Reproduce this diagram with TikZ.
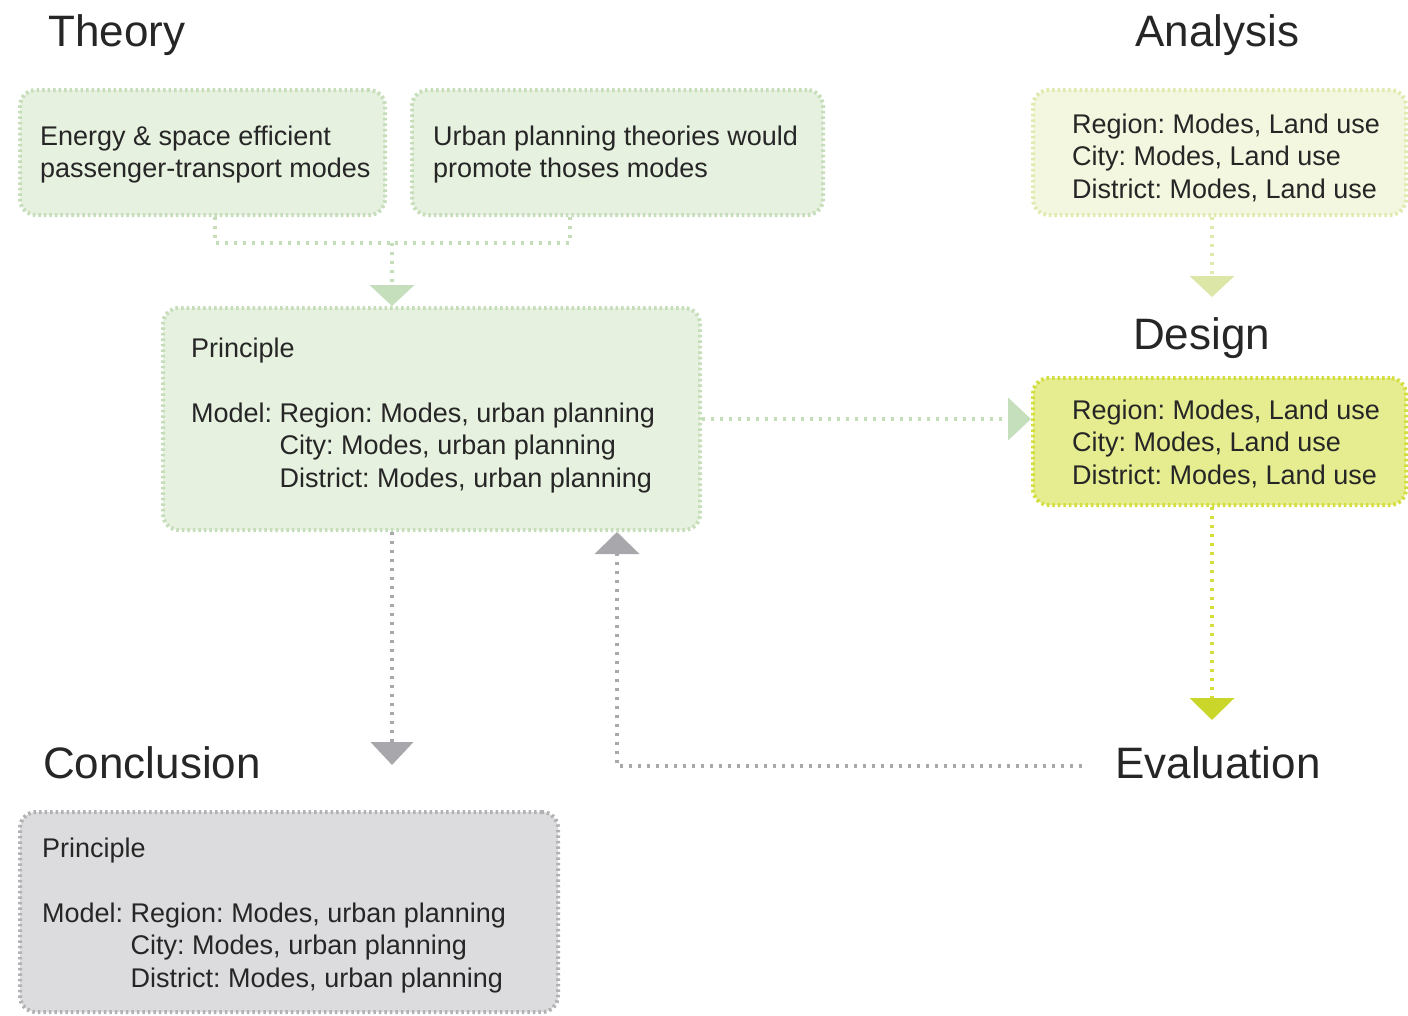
\documentclass[tikz,border=0pt]{standalone}
\usepackage{fontspec}
\setmainfont{Liberation Sans}
\usetikzlibrary{arrows.meta}
\frenchspacing
\definecolor{txt}{HTML}{262626}
\definecolor{tgfill}{HTML}{E7F1E0}
\definecolor{tgline}{HTML}{C5DDB9}
\definecolor{tgtip}{HTML}{C5DFBC}
\definecolor{anfill}{HTML}{F4F7DF}
\definecolor{anline}{HTML}{E0E9AE}
\definecolor{antip}{HTML}{DCE6A6}
\definecolor{defill}{HTML}{E6ED90}
\definecolor{deline}{HTML}{D3DD3E}
\definecolor{detip}{HTML}{CAD62A}
\definecolor{grline}{HTML}{A9A9AB}
\definecolor{grtip}{HTML}{A8A8AC}
\definecolor{cofill}{HTML}{DCDCDE}
\definecolor{coline}{HTML}{B2B2B4}
\tikzset{
  boxbase/.style={rounded corners=16pt, line width=4pt, dash pattern=on 2.5pt off 3pt, inner sep=0pt},
  boxtext/.style={anchor=north west, inner sep=0pt, align=left, text=txt, font=\fontsize{27}{32.5}\selectfont\frenchspacing},
  title/.style={anchor=base west, inner sep=0pt, text=txt, font=\fontsize{44}{50}\selectfont},
  conn/.style={line width=4.5pt, dash pattern=on 3pt off 6pt},
  tgconn/.style={conn, draw=tgline},
  anconn/.style={conn, draw=anline},
  deconn/.style={conn, draw=deline},
  grconn/.style={conn, draw=grline},
}
\begin{document}
\begin{tikzpicture}[x=1pt,y=-1pt]
\useasboundingbox (0,0) rectangle (1408,1015);

% titles
\node[title] (theory) at (48,46) {Theory};
\node[title] (analysis) at (1135,46) {Analysis};
\node[title] (design) at (1133,349) {Design};
\node[title] (conclusion) at (43,778) {Conclusion};
\node[title] (evaluation) at (1115,778) {Evaluation};

% boxes
\node[boxbase, draw=tgline, fill=tgfill, minimum width=365pt, minimum height=125pt] (t1) at (202.5,152.5) {};
\node[boxbase, draw=tgline, fill=tgfill, minimum width=411pt, minimum height=125pt] (t2) at (617.5,152.5) {};
\node[boxbase, draw=anline, fill=anfill, minimum width=373pt, minimum height=125pt] (an) at (1219.5,152.5) {};
\node[boxbase, draw=tgline, fill=tgfill, minimum width=537pt, minimum height=222pt] (prin) at (431.5,419) {};
\node[boxbase, draw=deline, fill=defill, minimum width=373pt, minimum height=127pt] (des) at (1219.5,441.5) {};
\node[boxbase, draw=coline, fill=cofill, minimum width=538pt, minimum height=200pt] (conc) at (289,912) {};

% texts
\node[boxtext] (t1txt) at (40,122.25) {\strut Energy \& space efficient\\passenger-transport modes};
\node[boxtext] (t2txt) at (433,122.25) {\strut Urban planning theories would\\promote thoses modes};
\node[boxtext] (antxt) at (1072,110.25) {\strut Region: Modes, Land use\\City: Modes, Land use\\District: Modes, Land use};
\node[boxtext] (printxt) at (191,334.25) {\strut Principle\\[32.5pt]Model: Region: Modes, urban planning\\\hphantom{Model: }City: Modes, urban planning\\\hphantom{Model: }District: Modes, urban planning};
\node[boxtext] (destxt) at (1072,396.25) {\strut Region: Modes, Land use\\City: Modes, Land use\\District: Modes, Land use};
\node[boxtext] (conctxt) at (42,834.25) {\strut Principle\\[32.5pt]Model: Region: Modes, urban planning\\\hphantom{Model: }City: Modes, urban planning\\\hphantom{Model: }District: Modes, urban planning};

% connectors
\coordinate (tjoin) at (392,243);
\draw[tgconn] (215,0 |- t1.south) |- (tjoin);
\draw[tgconn] (570,0 |- t2.south) |- (tjoin);
\draw[tgconn, -{Triangle[width=44pt,length=21pt,color=tgtip]}] (tjoin) -- (392,0 |- prin.north);

\draw[tgconn, -{Triangle[width=42pt,length=23pt,color=tgtip]}] (prin.east) -- (prin.east -| des.west);

\coordinate (antipend) at (1212,297);
\draw[anconn, -{Triangle[width=44pt,length=21pt,color=antip]}] (1212,0 |- an.south) -- (antipend);

\coordinate (detipend) at (1212,720);
\draw[deconn, -{Triangle[width=44pt,length=22pt,color=detip]}] (1212,0 |- des.south) -- (detipend);

\coordinate (grdown) at (392,765);
\draw[grconn, -{Triangle[width=42pt,length=23pt,color=grtip]}] (392,0 |- prin.south) -- (grdown);

\coordinate (evstart) at ([xshift=-33pt]evaluation.west |- 0,766);
\draw[grconn, -{Triangle[width=44pt,length=22pt,color=grtip]}] (evstart) -| (617,0 |- prin.south);
\end{tikzpicture}
\end{document}
